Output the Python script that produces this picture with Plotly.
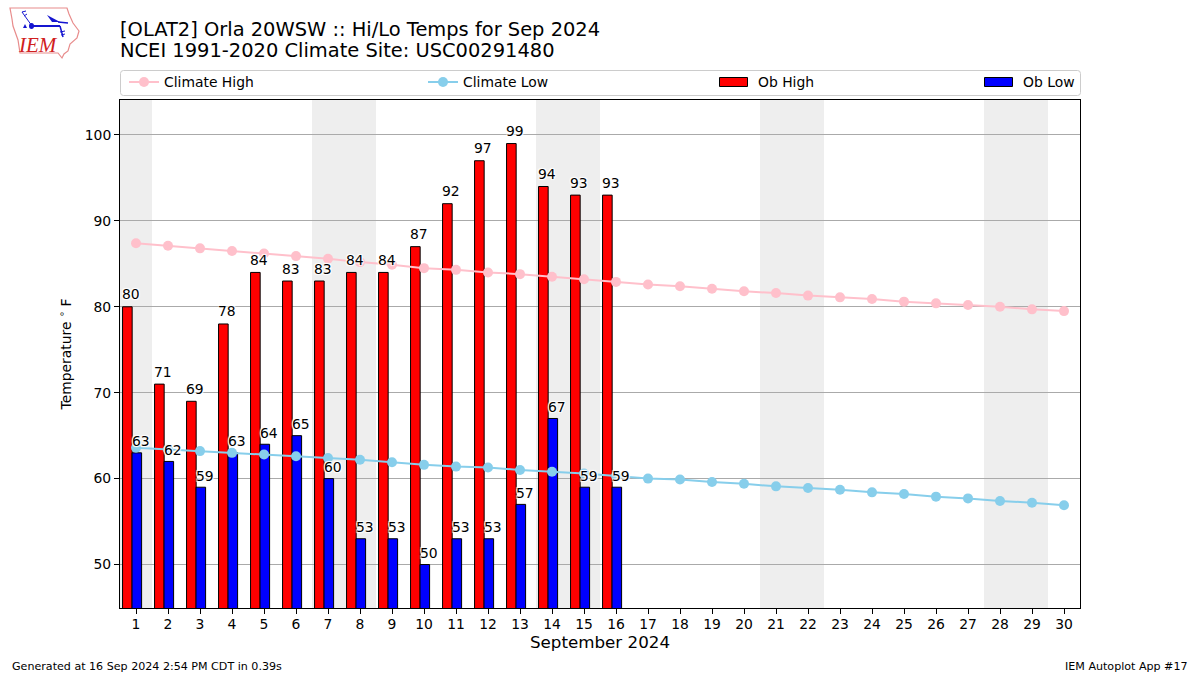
import plotly.graph_objects as go

DAYS = list(range(1, 31))
OB_DAYS = list(range(1, 17))
CLIMATE_HIGH = [87.4, 87.1, 86.8, 86.5, 86.2, 85.9, 85.6, 85.2, 84.9, 84.5, 84.3, 84.0, 83.8, 83.5, 83.2,
                82.9, 82.6, 82.4, 82.1, 81.8, 81.6, 81.3, 81.1, 80.9, 80.6, 80.4, 80.2, 80.0, 79.7, 79.5]
CLIMATE_LOW = [63.6, 63.4, 63.2, 63.0, 62.8, 62.6, 62.4, 62.2, 61.9, 61.6, 61.4, 61.3, 61.0, 60.8, 60.6,
               60.3, 60.0, 59.9, 59.6, 59.4, 59.1, 58.9, 58.7, 58.4, 58.2, 57.9, 57.7, 57.4, 57.2, 56.9]
OB_HIGH = [80, 71, 69, 78, 84, 83, 83, 84, 84, 87, 92, 97, 99, 94, 93, 93]
OB_LOW = [63, 62, 59, 63, 64, 65, 60, 53, 53, 50, 53, 53, 57, 67, 59, 59]
WEEKEND_DAYS = [1, 7, 8, 14, 15, 21, 22, 28, 29]
Y_TICKS = [50, 60, 70, 80, 90, 100]

W, H = 1200, 675
L, R, T, B = 120, 1080, 100, 608
FONT = "DejaVu Sans"
def px(x): return (x - L) / (R - L)
def py(y): return (B - y) / (B - T)

fig = go.Figure()
fig.add_bar(x=OB_DAYS, y=OB_HIGH, width=0.3, offset=-0.42, name="Ob High", showlegend=False,
            marker=dict(color="#ff0000", line=dict(color="black", width=1)))
fig.add_bar(x=OB_DAYS, y=OB_LOW, width=0.3, offset=-0.125, name="Ob Low", showlegend=False,
            marker=dict(color="#0000ff", line=dict(color="black", width=1)))
fig.add_scatter(x=DAYS, y=CLIMATE_HIGH, mode="lines+markers", name="Climate High", legend="legend",
                line=dict(color="#ffc0cb", width=2), marker=dict(color="#ffc0cb", size=10))
fig.add_scatter(x=DAYS, y=CLIMATE_LOW, mode="lines+markers", name="Climate Low", legend="legend2",
                line=dict(color="#87ceeb", width=2), marker=dict(color="#87ceeb", size=10))
# legend entries for the bars; their swatches are drawn as shapes, as a bar key cannot be 28 px wide
fig.add_scatter(x=[None], y=[None], mode="lines", name="Ob High", legend="legend3",
                line=dict(color="rgba(0,0,0,0)", width=1))
fig.add_scatter(x=[None], y=[None], mode="lines", name="Ob Low", legend="legend4",
                line=dict(color="rgba(0,0,0,0)", width=1))

shapes = []
for d in WEEKEND_DAYS:
    shapes.append(dict(type="rect", xref="x", yref="paper", x0=d - 0.5, x1=d + 0.5, y0=0, y1=1,
                       fillcolor="#eeeeee", line=dict(width=0), layer="below"))
x0, x1, y0, y1, r = 120.5, 1080.5, 70.5, 95.5, 3
shapes.append(dict(type="path", xref="paper", yref="paper", layer="below",
                   line=dict(color="#cccccc", width=1), fillcolor="white",
                   path=f"M{px(x0+r)},{py(y0)} L{px(x1-r)},{py(y0)} Q{px(x1)},{py(y0)} {px(x1)},{py(y0+r)} "
                        f"L{px(x1)},{py(y1-r)} Q{px(x1)},{py(y1)} {px(x1-r)},{py(y1)} "
                        f"L{px(x0+r)},{py(y1)} Q{px(x0)},{py(y1)} {px(x0)},{py(y1-r)} "
                        f"L{px(x0)},{py(y0+r)} Q{px(x0)},{py(y0)} {px(x0+r)},{py(y0)} Z"))
for sx, color in [(719.5, "#ff0000"), (984.5, "#0000ff")]:
    shapes.append(dict(type="rect", xref="paper", yref="paper", x0=px(sx), x1=px(sx + 28), y0=py(86.5), y1=py(77.5),
                       fillcolor=color, line=dict(color="black", width=1)))

def poly(points, close=False):
    s = "M" + " L".join(f"{px(a)},{py(b)}" for a, b in points)
    return s + (" Z" if close else "")
IOWA = [(10, 8), (67, 8), (69, 14), (73, 23), (79, 31), (77, 38), (70, 44), (68, 51), (64, 54),
        (62, 58), (58, 53), (20, 53), (18, 40), (13, 26), (12, 19)]
shapes.append(dict(type="path", xref="paper", yref="paper", path=poly(IOWA, True),
                   line=dict(color="#e88c8c", width=1.2), fillcolor="white"))
BLUE = "#1515d0"
for seg, w in [([(32, 26), (60, 26)], 2), ([(32, 26), (22, 12)], 1), ([(22, 12), (26, 11)], 1),
               ([(24, 16), (27, 14)], 1), ([(58, 22), (68, 23)], 1.5), ([(60, 26), (63, 37)], 1.5),
               ([(60, 32), (65, 31)], 1), ([(61, 35), (65, 34)], 1)]:
    shapes.append(dict(type="path", xref="paper", yref="paper", path=poly(seg), line=dict(color=BLUE, width=w)))
shapes.append(dict(type="path", xref="paper", yref="paper", path=poly([(47, 15), (60, 22), (52, 22)], True),
                   fillcolor=BLUE, line=dict(width=0)))
shapes.append(dict(type="circle", xref="paper", yref="paper", x0=px(29), x1=px(34), y0=py(29), y1=py(23),
                   fillcolor=BLUE, line=dict(width=0)))
shapes.append(dict(type="path", xref="paper", yref="paper", path=poly([(25, 24), (27, 28), (23, 28)], True),
                   fillcolor=BLUE, line=dict(width=0)))

def txt(x, y, s, size, xa="left", ya="middle", color="black", family=FONT, ital=False):
    t = f"<i>{s}</i>" if ital else s
    return dict(xref="paper", yref="paper", x=px(x), y=py(y), text=t, showarrow=False, xanchor=xa, yanchor=ya,
                font=dict(family=family, size=size, color=color), borderpad=0, borderwidth=0)

annotations = [
    txt(120, 51, "NCEI 1991-2020 Climate Site: USC00291480", 19.45),
    txt(12, 666, "Generated at 16 Sep 2024 2:54 PM CDT in 0.39s", 11.1),
    txt(1188, 666, "IEM Autoplot App #17", 11.1, xa="right"),
    txt(38, 45, "IEM", 21, xa="center", color="#d02020", family="Liberation Serif", ital=True),
]
halo = "-1px -1px 1px #fff, 1px -1px 1px #fff, -1px 1px 1px #fff, 1px 1px 1px #fff"
for days, vals, shift, ys in [(OB_DAYS, OB_HIGH, -0.15, 3.5), (OB_DAYS, OB_LOW, 0.15, 2.5)]:
    for d, v in zip(days, vals):
        annotations.append(dict(xref="x", yref="y", x=d + shift, y=v, text=str(v), showarrow=False,
                                xanchor="center", yanchor="bottom", yshift=ys, borderpad=0,
                                font=dict(family=FONT, size=13.9, color="black", shadow=halo)))

def leg(x):
    return dict(x=px(x), y=py(82.5), xanchor="left", yanchor="middle", orientation="h", bgcolor="rgba(0,0,0,0)",
                borderwidth=0, font=dict(family=FONT, size=13.9, color="black"), itemwidth=30)

fig.update_layout(
    width=W, height=H, autosize=False, plot_bgcolor="white", paper_bgcolor="white",
    margin=dict(l=L, r=W - R, t=T, b=H - B, autoexpand=False), barmode="overlay", showlegend=True,
    font=dict(family=FONT, size=13.9, color="black"), hovermode=False,
    title=dict(text="[OLAT2] Orla 20WSW :: Hi/Lo Temps for Sep 2024", x=120 / W, xanchor="left", xref="container",
               y=1 - 29 / H, yanchor="middle", font=dict(family=FONT, size=19.45, color="black")),
    xaxis=dict(range=[0.5, 30.5], tickmode="array", tickvals=DAYS, ticktext=[str(d) for d in DAYS], ticks="outside",
               ticklen=5, tickwidth=1, tickcolor="black", showgrid=False, zeroline=False, showline=True,
               linecolor="black", linewidth=1, mirror=True, tickangle=0, tickfont=dict(size=13.9),
               ticklabelstandoff=-2,
               title=dict(text="September 2024", font=dict(size=16.7), standoff=4)),
    yaxis=dict(range=[44.94, 104.07], tickmode="array", tickvals=Y_TICKS, ticks="outside", ticklen=5, tickwidth=1,
               tickcolor="black", showgrid=True, gridcolor="#aaaaaa", gridwidth=1, zeroline=False, showline=True,
               linecolor="black", linewidth=1, mirror=True, tickfont=dict(size=13.9),
               title=dict(text="Temperature <sup>∘</sup> F", font=dict(size=13.9), standoff=9)),
    shapes=shapes, annotations=annotations,
    legend=leg(124), legend2=leg(423), legend3=leg(718), legend4=leg(983),
)
fig.write_html("out.html", config={"displayModeBar": False}, post_script="document.body.style.margin='0';")
